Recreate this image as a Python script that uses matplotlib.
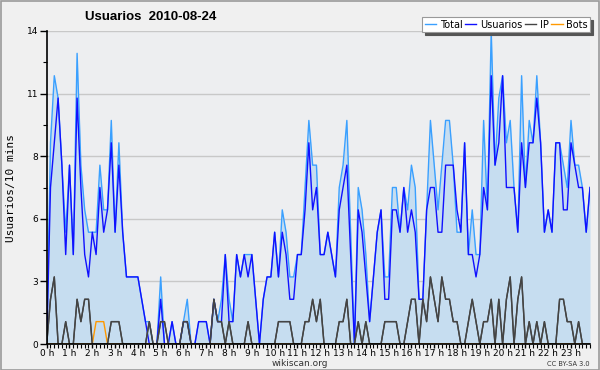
import numpy as np
import matplotlib
matplotlib.use("Agg")
import matplotlib.pyplot as plt
from matplotlib.patches import Rectangle

# values every 10 minutes, 0h00 .. 23h50
total = [0, 9, 12, 11, 8, 5, 8, 4, 13, 8, 6, 5, 5, 5, 8, 6, 6, 10, 5, 9, 5, 3, 3, 3,
         3, 2, 1, 1, 0, 0, 3, 0, 0, 1, 0, 0, 1, 2, 0, 0, 1, 1, 1, 0, 2, 1, 2, 4,
         2, 1, 4, 3, 4, 4, 4, 2, 0, 2, 3, 3, 5, 3, 6, 5, 3, 3, 4, 4, 7, 10, 8, 8,
         4, 4, 5, 4, 3, 7, 8, 10, 5, 0, 7, 6, 4, 1, 3, 5, 6, 3, 3, 7, 7, 5, 7, 6,
         8, 7, 2, 2, 6, 10, 8, 6, 8, 10, 10, 8, 5, 5, 9, 4, 6, 4, 4, 10, 6, 14, 8, 11,
         12, 9, 10, 7, 5, 12, 7, 10, 9, 12, 9, 5, 6, 5, 9, 9, 8, 7, 10, 8, 8, 7, 5, 7]
usuarios = [0, 7, 9, 11, 8, 4, 8, 4, 11, 7, 4, 3, 5, 4, 7, 5, 6, 9, 5, 8, 5, 3, 3, 3,
            3, 2, 1, 0, 0, 0, 2, 0, 0, 1, 0, 0, 1, 1, 0, 0, 1, 1, 1, 0, 2, 1, 1, 4,
            1, 1, 4, 3, 4, 3, 4, 2, 0, 2, 3, 3, 5, 3, 5, 4, 2, 2, 4, 4, 6, 9, 6, 7,
            4, 4, 5, 4, 3, 6, 7, 8, 4, 0, 6, 5, 3, 1, 3, 5, 6, 2, 2, 6, 6, 5, 7, 5,
            6, 5, 2, 2, 6, 7, 7, 5, 5, 8, 8, 8, 6, 5, 9, 4, 4, 3, 4, 7, 6, 12, 8, 9,
            12, 7, 7, 7, 5, 9, 7, 9, 9, 11, 9, 5, 6, 5, 9, 9, 6, 6, 9, 8, 7, 7, 5, 7]
ip = [0, 2, 3, 0, 0, 1, 0, 0, 2, 1, 2, 2, 0, 0, 0, 0, 0, 1, 1, 1, 0, 0, 0, 0,
      0, 0, 0, 1, 0, 0, 1, 1, 0, 0, 0, 0, 1, 1, 0, 0, 0, 0, 0, 0, 2, 1, 1, 0,
      1, 0, 0, 0, 0, 1, 0, 0, 0, 0, 0, 0, 0, 1, 1, 1, 1, 0, 0, 0, 1, 1, 2, 1,
      2, 0, 0, 0, 0, 1, 1, 2, 0, 0, 1, 0, 1, 0, 0, 0, 0, 1, 1, 1, 1, 0, 0, 1,
      2, 2, 0, 2, 1, 3, 2, 1, 3, 2, 2, 1, 1, 0, 0, 1, 2, 1, 0, 1, 1, 2, 0, 2,
      0, 2, 3, 0, 2, 3, 0, 1, 0, 1, 0, 1, 0, 0, 0, 2, 2, 1, 1, 0, 1, 0, 0, 0]
bots = [0] * 144
bots[13] = bots[14] = bots[15] = 1

hour_labels = ["%d h" % h for h in range(24)]
ytick_labels = ["0", "3", "6", "8", "11", "14"]

x = np.arange(len(total))

fig = plt.figure(figsize=(6, 3.7), dpi=100, facecolor="#f0f0f0")
fig.patches.append(Rectangle((0.001, 0.001), 0.997, 0.996, transform=fig.transFigure,
                             fill=False, edgecolor="#9a9a9a", linewidth=1.2))
ax = fig.add_axes([46.7 / 600, 26 / 370, 543.3 / 600, 313 / 370])
ax.set_facecolor("#edeef0")

ax.fill_between(x, total, 0, color="#c6ddf0", linewidth=0)
ax.plot(x, total, color="#3aa0ff", linewidth=1.0, label="Total")
ax.plot(x, usuarios, color="#1010ff", linewidth=1.0, label="Usuarios")
ax.plot(x, ip, color="#444444", linewidth=1.0, label="IP")
ax.plot(x, bots, color="#ff9900", linewidth=1.0, label="Bots")
ax.plot(x, ip, color="#444444", linewidth=1.0)

ax.set_xlim(0, 143)
ax.set_ylim(0, 14)
yt = np.linspace(0, 14, 6)
ax.set_yticks(yt)
ax.set_yticklabels(ytick_labels)
ax.set_yticks(np.arange(0, 14.01, 1.4), minor=True)
ax.set_xticks(np.arange(0, 144, 6))
ax.set_xticklabels(hour_labels)
ax.set_xticks(np.arange(0, 144, 1), minor=True)
ax.grid(axis="y", which="major", color="#c8c8c8", linewidth=1.0)
ax.set_axisbelow(True)

for s in ["top", "right"]:
    ax.spines[s].set_visible(False)
ax.spines["left"].set_linewidth(1.2)
ax.spines["bottom"].set_linewidth(1.2)
ax.tick_params(axis="both", which="major", direction="out", length=3, width=1,
               labelsize=6.5, pad=0.5, colors="black")
ax.tick_params(axis="both", which="minor", direction="out", length=3, width=0.8)
ax.tick_params(axis="y", which="major", length=5, pad=1)

ax.set_ylabel("Usuarios/10 mins", family="DejaVu Sans Mono", fontsize=8, labelpad=8)

fig.text(85 / 600, 1 - 17 / 370, "Usuarios  2010-08-24", fontsize=9.5, fontweight="bold",
         family="Liberation Sans", va="center", ha="left")

leg = ax.legend(loc="upper right", bbox_to_anchor=(1.009, 1.06), ncol=4, fontsize=7,
                handlelength=1.2, handletextpad=0.35, columnspacing=0.25, borderpad=0.25,
                frameon=True, fancybox=False, shadow={"color": "#555555", "alpha": 1},
                framealpha=1, edgecolor="#999999")
leg.get_frame().set_linewidth(0.8)

fig.text(300 / 600, 1 - 363 / 370, "wikiscan.org", fontsize=6.5, ha="center", va="center",
         color="#333333")
fig.text(590 / 600, 1 - 363.5 / 370, "CC BY-SA 3.0", fontsize=4.8, ha="right", va="center",
         color="#333333")

fig.savefig("out.png", dpi=100, facecolor=fig.get_facecolor())
